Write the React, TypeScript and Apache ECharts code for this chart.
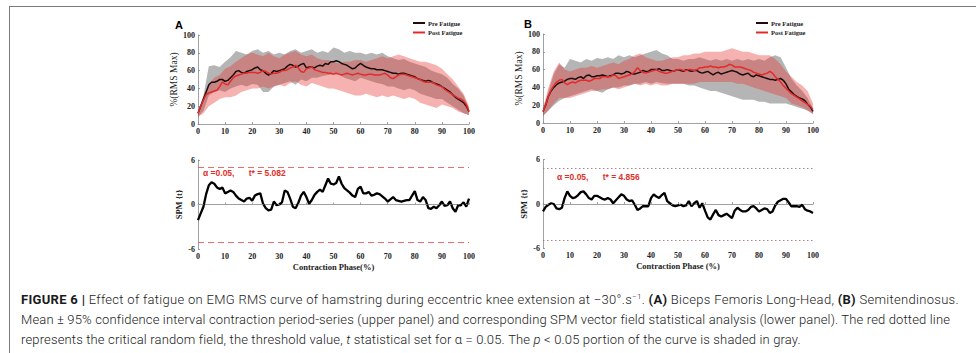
import React, { useEffect, useRef } from "react";
import * as echarts from "echarts";

// ---------- data ----------
const phase: number[] = Array.from({ length: 101 }, (_, i) => i);
const bandX = [0, 2, 4, 6, 8, 10, 12, 14, 16, 18, 20, 22, 24, 26, 28, 30, 32, 34, 36, 38, 40, 42, 44, 46, 48, 50,
  52, 54, 56, 58, 60, 62, 64, 66, 68, 70, 72, 74, 76, 78, 80, 82, 84, 86, 88, 90, 92, 94, 96, 98, 100];

// Panel A (Biceps Femoris Long-Head)
const preA = [12, 20, 28, 36, 44, 47, 47, 48, 50, 50, 48, 49, 52, 55, 59, 60, 58, 57, 59, 60, 61, 63, 64, 61, 60, 57,
  55, 57, 60, 59, 60, 61, 62, 65, 67, 66, 64, 65, 67, 68, 63, 64, 64, 63, 65, 66, 65, 68, 67, 70, 70, 71, 70, 68, 67,
  66, 64, 62, 63, 66, 68, 66, 64, 63, 62, 62, 61, 61, 61, 60, 59, 58, 57, 57, 56, 57, 57, 56, 55, 54, 53, 51, 50, 49,
  48, 49, 48, 46, 45, 44, 42, 40, 38, 36, 33, 30, 28, 26, 24, 20, 14];
const postA = [12, 20, 27, 33, 35, 36, 37, 38, 42, 47, 45, 44, 48, 52, 54, 55, 56, 57, 57, 58, 58, 58, 57, 58, 60, 59,
  57, 56, 57, 57, 58, 60, 60, 61, 63, 64, 66, 63, 59, 58, 62, 63, 64, 61, 60, 59, 58, 58, 57, 57, 56, 57, 56, 55, 56,
  57, 56, 55, 56, 57, 56, 55, 55, 56, 56, 55, 55, 55, 56, 57, 55, 52, 51, 53, 55, 56, 56, 55, 54, 53, 52, 51, 50, 48,
  47, 47, 47, 46, 44, 43, 42, 39, 37, 35, 33, 31, 29, 28, 26, 22, 14];
const preUpA = [14, 32, 65, 66, 64, 70, 75, 82, 80, 78, 82, 84, 80, 82, 78, 80, 78, 82, 84, 80, 82, 84, 80, 82, 80, 86,
  84, 80, 82, 80, 80, 78, 80, 78, 80, 76, 74, 72, 73, 70, 68, 66, 64, 60, 58, 56, 52, 45, 40, 32, 18];
const preLoA = [8, 15, 32, 36, 38, 36, 40, 42, 44, 42, 45, 44, 36, 36, 42, 44, 46, 48, 44, 50, 48, 52, 52, 54, 55, 56,
  56, 52, 50, 48, 52, 50, 48, 46, 45, 42, 42, 40, 38, 40, 38, 34, 32, 30, 28, 28, 24, 20, 16, 12, 10];
const postUpA = [14, 30, 45, 52, 55, 62, 65, 70, 74, 78, 80, 78, 76, 80, 76, 74, 78, 80, 82, 78, 76, 78, 74, 72, 72, 70,
  68, 70, 70, 72, 72, 70, 72, 74, 76, 74, 76, 78, 76, 74, 72, 70, 70, 68, 66, 62, 56, 50, 42, 34, 20];
const postLoA = [8, 12, 20, 24, 28, 30, 30, 32, 36, 38, 40, 40, 42, 40, 42, 44, 42, 46, 48, 44, 42, 46, 44, 42, 40, 40,
  38, 36, 34, 32, 32, 34, 32, 30, 32, 30, 32, 30, 28, 30, 28, 24, 22, 20, 18, 22, 20, 18, 14, 12, 10];
const spmA = [-2.1, -1.2, -0.3, 1.4, 2.6, 3.0, 2.8, 2.3, 2.1, 2.3, 1.5, 1.7, 1.9, 1.7, 1.2, 0.8, 0.6, 0.4, 0.8, 0.9, 0.5,
  1.2, 1.4, 1.5, 0.1, -0.5, -0.8, -0.7, 0.4, -0.1, 0.0, 0.3, 1.9, 1.7, 0.8, -0.3, -0.5, 0.2, 1.2, 1.7, 1.0, 0.1, 0.6,
  1.3, 1.7, 2.0, 1.7, 2.6, 3.5, 2.8, 2.7, 2.9, 3.8, 2.8, 2.2, 1.9, 1.6, 1.2, 1.0, 2.1, 2.4, 1.5, 1.5, 1.7, 1.2, 1.3,
  1.5, 1.4, 1.1, 0.8, 0.4, 0.7, 1.0, 0.6, 0.5, 0.4, 0.5, 0.6, 0.6, 1.2, 1.8, 0.6, 0.4, 1.0, 0.6, -0.5, -0.6, -0.3,
  -0.5, -0.1, 0.4, -0.2, -0.1, 0.4, -0.5, -1.0, -0.1, -0.1, 0.3, -0.3, 0.8];
const tStarA = 5.082;

// Panel B (Semitendinosus)
const preB = [13, 20, 30, 36, 40, 43, 45, 46, 47, 49, 50, 50, 49, 51, 52, 50, 53, 54, 52, 52, 53, 53, 54, 53, 52, 53,
  54, 56, 56, 55, 56, 58, 57, 55, 55, 56, 57, 59, 58, 58, 60, 60, 60, 61, 59, 59, 60, 59, 58, 59, 60, 59, 58, 60, 59,
  58, 59, 59, 57, 56, 57, 58, 56, 54, 56, 57, 55, 56, 57, 58, 59, 58, 57, 55, 54, 55, 56, 53, 52, 54, 53, 52, 51, 50,
  49, 49, 48, 49, 50, 48, 44, 38, 35, 32, 30, 28, 27, 25, 21, 18, 13];
const postB = [13, 20, 30, 37, 42, 46, 48, 49, 45, 43, 45, 46, 45, 47, 48, 48, 48, 47, 48, 50, 50, 50, 52, 52, 52, 52,
  54, 53, 50, 51, 52, 53, 54, 55, 58, 62, 59, 57, 56, 57, 58, 59, 60, 58, 57, 56, 56, 57, 58, 59, 60, 60, 59, 59, 60,
  60, 59, 60, 62, 62, 63, 63, 64, 63, 63, 62, 63, 63, 64, 66, 65, 63, 63, 63, 62, 61, 60, 59, 57, 56, 55, 54, 55, 56,
  58, 56, 52, 49, 46, 42, 39, 36, 33, 31, 29, 27, 25, 23, 21, 19, 15];
const preUpB = [16, 35, 55, 66, 62, 72, 70, 68, 72, 70, 73, 72, 74, 72, 76, 74, 76, 74, 76, 78, 80, 82, 78, 76, 72, 72,
  70, 72, 72, 74, 72, 70, 72, 70, 72, 70, 72, 70, 72, 70, 72, 70, 74, 76, 74, 62, 50, 42, 36, 28, 16];
const preLoB = [8, 14, 20, 25, 28, 30, 32, 34, 36, 38, 36, 34, 38, 40, 40, 42, 42, 44, 44, 46, 44, 46, 45, 44, 44, 44,
  44, 42, 42, 40, 38, 36, 36, 34, 32, 30, 28, 26, 26, 26, 24, 24, 22, 22, 22, 22, 20, 18, 16, 14, 10];
const postUpB = [16, 40, 58, 68, 60, 58, 60, 62, 62, 64, 62, 64, 66, 68, 66, 70, 72, 76, 78, 74, 72, 70, 70, 72, 74, 74,
  76, 76, 78, 78, 80, 80, 80, 80, 82, 84, 82, 80, 80, 78, 76, 76, 76, 72, 66, 58, 52, 46, 42, 36, 22];
const postLoB = [8, 14, 22, 28, 28, 28, 30, 32, 34, 36, 36, 38, 38, 40, 38, 40, 42, 44, 42, 44, 42, 44, 42, 42, 44, 44,
  44, 44, 44, 46, 46, 46, 46, 46, 46, 46, 44, 44, 42, 40, 38, 36, 34, 32, 30, 28, 22, 20, 18, 14, 10];
const spmB = [-1.0, -0.4, -0.1, 0.1, 0.0, -0.6, -0.7, -0.5, 0.8, 1.7, 1.1, 0.8, 0.9, 1.2, 1.6, 1.7, 1.3, 0.8, 0.6, 1.1,
  1.1, 0.9, 0.7, 0.6, 0.8, 0.6, 0.1, 0.5, 0.9, 1.3, 1.1, 0.6, 0.4, 0.5, -0.1, -0.8, -0.6, -0.3, -0.3, -0.3, 0.8, 1.3,
  1.0, 0.8, 1.2, 1.5, 0.4, 0.1, -0.2, -0.3, -0.2, -0.1, -0.3, -0.2, 0.4, -0.3, 0.1, 0.4, -0.5, 0.1, -0.9, -1.8, -2.1,
  -1.4, -0.8, -1.5, -1.7, -1.5, -1.3, -1.6, -1.9, -0.9, -0.5, -0.8, -1.0, -1.0, -0.8, -0.4, -0.3, -0.6, -1.0, -0.8,
  -0.6, -0.7, -1.2, -1.0, -0.2, 0.3, 0.5, 0.7, 0.7, 0.2, -0.3, -0.3, -0.3, -0.4, -0.1, -0.7, -0.9, -1.0, -1.2];
const tStarB = 4.856;

const legendNames = ["Pre Fatigue", "Post Fatigue"];

// ---------- styling ----------
const SERIF = '"Liberation Serif", "Times New Roman", serif';
const SANS = '"Liberation Sans", Arial, sans-serif';
const PRE_COLOR = "#1c0c0c";
const POST_COLOR = "#e42b2b";
const GRAY_FILL = "rgba(128,128,128,0.58)";
const RED_FILL = "rgba(232,50,50,0.38)";

const pairs = (ys: number[]) => ys.map((y, i) => [phase[i], y]);

function band(lo: number[], hi: number[], fill: string, axis: number) {
  return {
    type: "custom",
    xAxisIndex: axis,
    yAxisIndex: axis,
    silent: true,
    z: 1,
    clip: true,
    data: [[bandX[0], lo[0]]],
    renderItem: (_p: any, api: any) => {
      const pts: number[][] = [];
      for (let i = 0; i < bandX.length; i++) pts.push(api.coord([bandX[i], hi[i]]));
      for (let i = bandX.length - 1; i >= 0; i--) pts.push(api.coord([bandX[i], lo[i]]));
      return { type: "polygon", shape: { points: pts }, style: { fill, stroke: null } };
    },
  };
}

function meanLine(name: string, ys: number[], color: string, axis: number, z: number) {
  return {
    type: "line",
    name,
    xAxisIndex: axis,
    yAxisIndex: axis,
    data: pairs(ys),
    showSymbol: false,
    symbol: "none",
    z,
    lineStyle: { color, width: 1.5 },
    itemStyle: { color },
  };
}

function spmLine(ys: number[], axis: number, t: number, thrStyle: any) {
  return {
    type: "line",
    xAxisIndex: axis,
    yAxisIndex: axis,
    data: pairs(ys),
    showSymbol: false,
    symbol: "none",
    z: 3,
    lineStyle: { color: "#000", width: 2.3 },
    markLine: {
      silent: true,
      symbol: ["none", "none"],
      label: { show: false },
      data: [
        { yAxis: 0, lineStyle: { type: [1.5, 2.5], color: "#9a9a9a", width: 0.8 } },
        { yAxis: t, lineStyle: thrStyle },
        { yAxis: -t, lineStyle: thrStyle },
      ],
    },
  };
}

const axisLine = { show: true, lineStyle: { color: "#8a8a8a", width: 0.8 } };
const axisTick = { show: true, inside: true, length: 2, lineStyle: { color: "#8a8a8a", width: 0.8 } };
const axisLabel = { fontFamily: SERIF, fontWeight: "bold", fontSize: 8, color: "#222", margin: 3 };

function xAx(grid: number, name?: string) {
  return {
    type: "value",
    gridIndex: grid,
    min: 0,
    max: 100,
    interval: 10,
    axisLine,
    axisTick,
    axisLabel,
    splitLine: { show: false },
    name: name || "",
    nameLocation: "middle",
    nameGap: 13,
    nameTextStyle: { fontFamily: SERIF, fontWeight: "bold", fontSize: 8.5, color: "#222" },
  };
}

function yAx(grid: number, min: number, max: number, interval: number, name: string, gap: number, bold: boolean, size: number) {
  return {
    type: "value",
    gridIndex: grid,
    min,
    max,
    interval,
    axisLine,
    axisTick,
    axisLabel,
    splitLine: { show: false },
    name,
    nameLocation: "middle",
    nameRotate: 90,
    nameGap: gap,
    nameTextStyle: { fontFamily: SERIF, fontWeight: bold ? "bold" : "normal", fontSize: size, color: "#222" },
  };
}

function legendAt(left: number) {
  return {
    left,
    top: 19,
    orient: "vertical",
    padding: 0,
    itemGap: 1.5,
    itemWidth: 12,
    itemHeight: 2,
    icon: "rect",
    selectedMode: false,
    data: legendNames,
    textStyle: {
      fontFamily: SERIF,
      fontWeight: "bold",
      fontSize: 6.5,
      lineHeight: 8,
      color: "#222",
      padding: [0, 0, 0, -2],
    },
  };
}

function Chart() {
  const ref = useRef<HTMLDivElement>(null);
  useEffect(() => {
    if (!ref.current) return;
    const chart = echarts.init(ref.current, undefined, { renderer: "svg" });
    const redDash = { type: [6, 4], color: "#e35d5d", width: 0.9 };
    const dotThr = { type: [1.5, 2.5], color: "#b07070", width: 0.9 };
    chart.setOption({
      animation: false,
      backgroundColor: "transparent",
      grid: [
        { left: 198, top: 35, width: 271, height: 89 },
        { left: 198, top: 160, width: 271, height: 89 },
        { left: 543, top: 34, width: 270, height: 89 },
        { left: 543, top: 159.5, width: 270, height: 89 },
      ],
      xAxis: [xAx(0), xAx(1, "Contraction Phase(%)"), xAx(2), xAx(3, "Contraction Phase (%)")],
      yAxis: [
        yAx(0, 0, 100, 20, "%(RMS Max)", 13.5, false, 9.5),
        yAx(1, -6, 6, 6, "SPM {t}", 15, true, 8.5),
        yAx(2, 0, 100, 20, "%(RMS Max)", 16, false, 9.5),
        yAx(3, -6, 6, 6, "SPM {t}", 15, true, 8.5),
      ],
      legend: [legendAt(413), legendAt(756)],
      graphic: [
        { type: "text", left: 175, top: 19, style: { text: "A", font: `bold 11px ${SANS}`, fill: "#000" } },
        { type: "text", left: 524, top: 18, style: { text: "B", font: `bold 11px ${SANS}`, fill: "#000" } },
        {
          type: "text",
          left: 203,
          top: 168.5,
          style: { text: "α =0.05,      t* = 5.082", font: `bold 8.5px ${SANS}`, fill: "#e0302a" },
        },
        {
          type: "text",
          left: 557,
          top: 172,
          style: { text: "α =0.05,      t* = 4.856", font: `bold 8.5px ${SANS}`, fill: "#e0302a" },
        },
      ],
      series: [
        band(preLoA, preUpA, GRAY_FILL, 0),
        band(postLoA, postUpA, RED_FILL, 0),
        meanLine("Pre Fatigue", preA, PRE_COLOR, 0, 3),
        meanLine("Post Fatigue", postA, POST_COLOR, 0, 4),
        spmLine(spmA, 1, tStarA, redDash),
        band(preLoB, preUpB, GRAY_FILL, 2),
        band(postLoB, postUpB, RED_FILL, 2),
        meanLine("Pre Fatigue", preB, PRE_COLOR, 2, 3),
        meanLine("Post Fatigue", postB, POST_COLOR, 2, 4),
        spmLine(spmB, 3, tStarB, dotThr),
      ],
    });
    return () => chart.dispose();
  }, []);
  return <div ref={ref} style={{ position: "absolute", left: 0, top: 0, width: 976, height: 285 }} />;
}

const capBase: React.CSSProperties = {
  position: "absolute",
  left: 21,
  whiteSpace: "nowrap",
  fontFamily: 'Roboto, "Liberation Sans", sans-serif',
  fontWeight: 300,
  fontSize: "13px",
  letterSpacing: "0.15px",
  lineHeight: "19px",
  color: "#1a1a1a",
};

export default function App() {
  return (
    <div
      style={{
        position: "fixed",
        left: 0,
        top: 0,
        width: 976,
        height: 353,
        background: "#fff",
        overflow: "hidden",
      }}
    >
      <div
        style={{
          position: "absolute",
          left: 9,
          top: 6,
          width: 1000,
          height: 400,
          borderLeft: "1.5px solid #7a7a7a",
          borderTop: "1.5px solid #7a7a7a",
        }}
      />
      <Chart />
      <div style={{ ...capBase, top: 290, letterSpacing: "0.3px" }}>
        <b style={{ fontWeight: 700 }}>FIGURE 6 |</b> Effect of fatigue on EMG RMS curve of hamstring during eccentric
        knee extension at −30°.s<sup style={{ fontSize: "8px", lineHeight: 0 }}>−1</sup>.{" "}
        <b style={{ fontWeight: 700 }}>(A)</b> Biceps Femoris Long-Head, <b style={{ fontWeight: 700 }}>(B)</b>{" "}
        Semitendinosus.
      </div>
      <div style={{ ...capBase, top: 310 }}>
        Mean ± 95% confidence interval contraction period-series (upper panel) and corresponding SPM vector field
        statistical analysis (lower panel). The red dotted line
      </div>
      <div style={{ ...capBase, top: 329.5 }}>
        represents the critical random field, the threshold value, <i>t</i> statistical set for α = 0.05. The{" "}
        <i>p</i> &lt; 0.05 portion of the curve is shaded in gray.
      </div>
    </div>
  );
}
